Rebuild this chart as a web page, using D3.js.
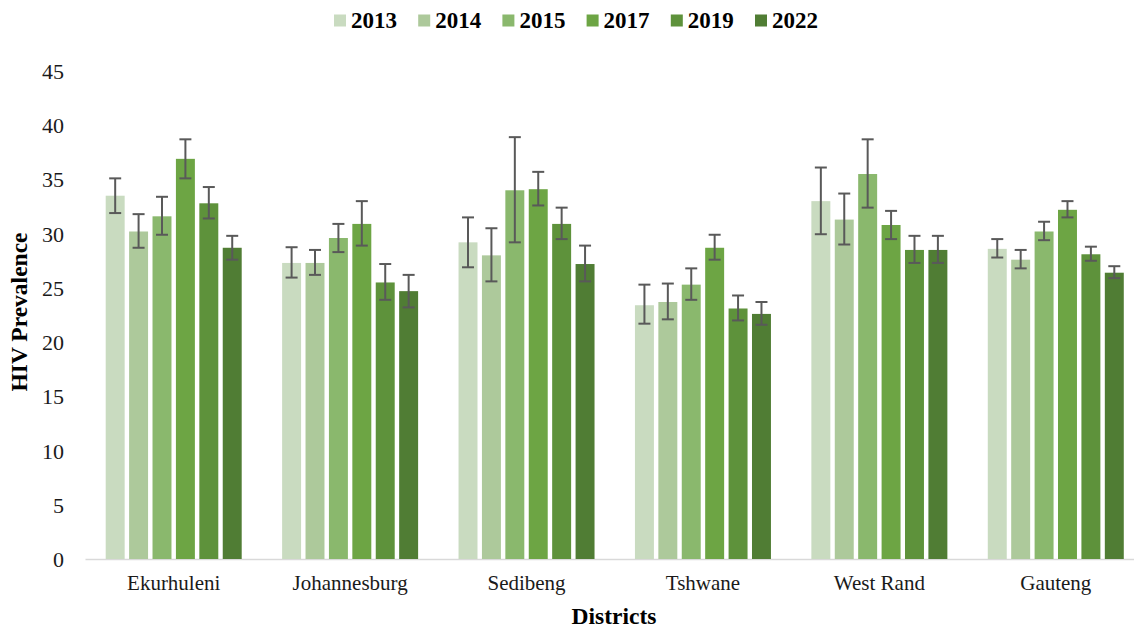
<!DOCTYPE html>
<html><head><meta charset="utf-8">
<script src="https://cdn.jsdelivr.net/npm/d3@7"></script>
<style>html,body{margin:0;padding:0;background:#fff;overflow:hidden}</style>
</head><body>
<svg id="chart" width="1134" height="631"></svg>
<script>
const categories = ["Ekurhuleni","Johannesburg","Sedibeng","Tshwane","West Rand","Gauteng"];
const years = ["2013","2014","2015","2017","2019","2022"];
const colors = ["#c9dbc0","#adc99b","#8ab86d","#6da544","#5e923b","#507d34"];
// values[yearIndex][categoryIndex]
const values = [
  [33.5, 27.3, 29.2, 23.4, 33.0, 28.6],
  [30.2, 27.3, 28.0, 23.7, 31.3, 27.6],
  [31.6, 29.6, 34.0, 25.3, 35.5, 30.2],
  [36.9, 30.9, 34.1, 28.7, 30.8, 32.2],
  [32.8, 25.5, 30.9, 23.1, 28.5, 28.1],
  [28.7, 24.7, 27.2, 22.6, 28.5, 26.4]
];
const errUpper = [
  [35.1, 28.75, 31.5, 25.3, 36.1, 29.5],
  [31.8, 28.5, 30.5, 25.4, 33.7, 28.5],
  [33.4, 30.9, 38.9, 26.8, 38.7, 31.1],
  [38.7, 33.0, 35.7, 29.9, 32.1, 33.0],
  [34.3, 27.2, 32.4, 24.3, 29.8, 28.8],
  [29.8, 26.2, 28.9, 23.7, 29.8, 27.0]
];
const errLower = [
  [31.9, 25.95, 26.9, 21.7, 29.95, 27.8],
  [28.7, 26.2, 25.6, 22.1, 29.0, 26.8],
  [29.9, 28.3, 29.2, 23.9, 32.4, 29.4],
  [35.1, 28.9, 32.6, 27.6, 29.5, 31.5],
  [31.4, 23.9, 29.5, 22.0, 27.3, 27.5],
  [27.6, 23.2, 25.6, 21.6, 27.3, 25.9]
];
const yTicks = [0,5,10,15,20,25,30,35,40,45];

const svg = d3.select("#chart");
const font = "'Liberation Serif','Times New Roman',serif";

const x0 = d3.scaleBand().domain(categories).range([85.5, 1144]).padding(0);
const x1 = d3.scaleBand().domain(years).range([20.2, 156.2]).paddingInner(0.19).paddingOuter(0);
const y = d3.scaleLinear().domain([0,45]).range([559, 71]);

// x axis line
svg.append("line").attr("x1",85.5).attr("x2",1144).attr("y1",y(0)+0.5).attr("y2",y(0)+0.5)
  .attr("stroke","#d9d9d9").attr("stroke-width",1.5);

// y tick labels
const yAxis = d3.axisLeft(y).tickValues(yTicks).tickSize(0).tickPadding(0);
const gy = svg.append("g").attr("transform","translate(64,0)").call(yAxis);
gy.select(".domain").remove();
gy.selectAll("text").attr("font-family",font).attr("font-size",22).attr("fill","#1a1a1a")
  .attr("dy","0.34em").attr("x",0);

// category labels
const xAxis = d3.axisBottom(x0).tickSize(0).tickPadding(0);
const gx = svg.append("g").attr("transform","translate(0,590)").call(xAxis);
gx.select(".domain").remove();
gx.selectAll("text").attr("font-family",font).attr("font-size",21).attr("fill","#1a1a1a").attr("dy",0);

// bars
const flat = [];
years.forEach((yr,i)=>categories.forEach((c,j)=>flat.push({yr,i,c,v:values[i][j],hi:errUpper[i][j],lo:errLower[i][j]})));
svg.append("g").selectAll("rect").data(flat).join("rect")
  .attr("x",d=>x0(d.c)+x1(d.yr))
  .attr("width",x1.bandwidth())
  .attr("y",d=>y(d.v))
  .attr("height",d=>y(0)-y(d.v))
  .attr("fill",d=>colors[d.i]);

// error bars
const eb = svg.append("g").attr("stroke","#595959").attr("stroke-width",2);
const cx = d=>x0(d.c)+x1(d.yr)+x1.bandwidth()/2;
eb.selectAll("line.v").data(flat).join("line").attr("class","v")
  .attr("x1",cx).attr("x2",cx).attr("y1",d=>y(d.hi)).attr("y2",d=>y(d.lo));
eb.selectAll("line.t").data(flat).join("line").attr("class","t")
  .attr("x1",d=>cx(d)-6).attr("x2",d=>cx(d)+6).attr("y1",d=>y(d.hi)).attr("y2",d=>y(d.hi));
eb.selectAll("line.b").data(flat).join("line").attr("class","b")
  .attr("x1",d=>cx(d)-6).attr("x2",d=>cx(d)+6).attr("y1",d=>y(d.lo)).attr("y2",d=>y(d.lo));

// legend
const leg = svg.append("g").selectAll("g").data(years).join("g")
  .attr("transform",(d,i)=>`translate(${334 + i*84.2},0)`);
leg.append("rect").attr("x",0).attr("y",14.5).attr("width",12).attr("height",12).attr("fill",(d,i)=>colors[i]);
leg.append("text").attr("x",17).attr("y",28).text(d=>d)
  .attr("font-family",font).attr("font-size",23).attr("font-weight","bold").attr("fill","#000");

// axis titles
svg.append("text").attr("x",614).attr("y",624).attr("text-anchor","middle")
  .attr("font-family",font).attr("font-size",23.5).attr("font-weight","bold").text("Districts");
svg.append("text").attr("transform","translate(27,312) rotate(-90)").attr("text-anchor","middle")
  .attr("font-family",font).attr("font-size",23.5).attr("font-weight","bold").text("HIV Prevalence");
</script>
</body></html>
